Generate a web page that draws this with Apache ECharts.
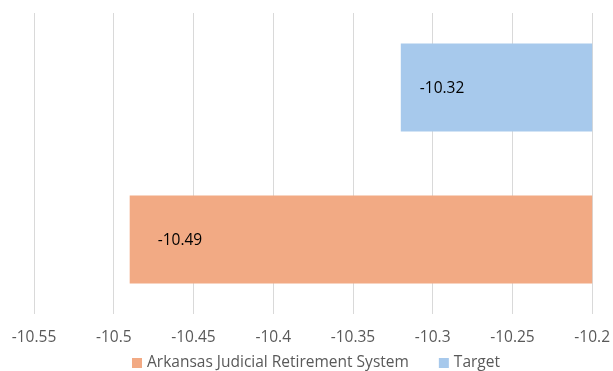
<!DOCTYPE html>
<html>
<head>
<meta charset="utf-8">
<script src="https://cdn.jsdelivr.net/npm/echarts@6/dist/echarts.min.js"></script>
<style>
  html, body { margin: 0; padding: 0; background: #fff; }
  #chart { width: 613px; height: 371px; }
</style>
</head>
<body>
<div id="chart"></div>
<script>
// Return values (series names and their single values)
const seriesNames = ['Arkansas Judicial Retirement System', 'Target'];
const seriesValues = [-10.49, -10.32];
const seriesColors = ['#F2AA84', '#A7C9EC'];
const labelDistances = [28, 19];

// Value axis range and tick step
const axisMin = -10.55;
const axisMax = -10.2;
const axisStep = 0.05;

const font = '"Open Sans", "Noto Sans", sans-serif';

const chart = echarts.init(document.getElementById('chart'), null, { renderer: 'canvas' });

// Build one bar series per entry; listed in reverse so the first entry sits at the bottom
const series = seriesNames.map((name, i) => ({
  name: name,
  type: 'bar',
  data: [seriesValues[i]],
  barWidth: 88,
  barGap: '72.7%',
  clip: true,
  itemStyle: { color: seriesColors[i] },
  label: {
    show: true,
    position: 'insideLeft',
    distance: labelDistances[i],
    color: '#000',
    fontSize: 15.5,
    fontFamily: font,
    offset: [0, 1],
    formatter: (p) => String(p.value)
  }
})).reverse();

chart.setOption({
  animation: false,
  grid: { left: 34, right: 19, top: 13, bottom: 57, containLabel: false },
  legend: {
    top: 355,
    left: 132,
    padding: 0,
    icon: 'rect',
    itemWidth: 10,
    itemHeight: 10,
    itemGap: 30,
    textStyle: { color: '#595959', fontSize: 15.5, fontFamily: font },
    data: seriesNames
  },
  xAxis: {
    type: 'value',
    min: axisMin,
    max: axisMax,
    interval: axisStep,
    axisLine: { show: false },
    axisTick: { show: false },
    splitLine: { show: true, lineStyle: { color: '#D9D9D9', width: 1 } },
    axisLabel: {
      color: '#595959',
      fontSize: 15.5,
      fontFamily: font,
      margin: 16,
      formatter: (v) => String(parseFloat(v.toFixed(2)))
    }
  },
  yAxis: {
    type: 'category',
    data: [''],
    axisLine: { show: false },
    axisTick: { show: false },
    axisLabel: { show: false },
    splitLine: { show: false }
  },
  series: series
});
</script>
</body>
</html>
